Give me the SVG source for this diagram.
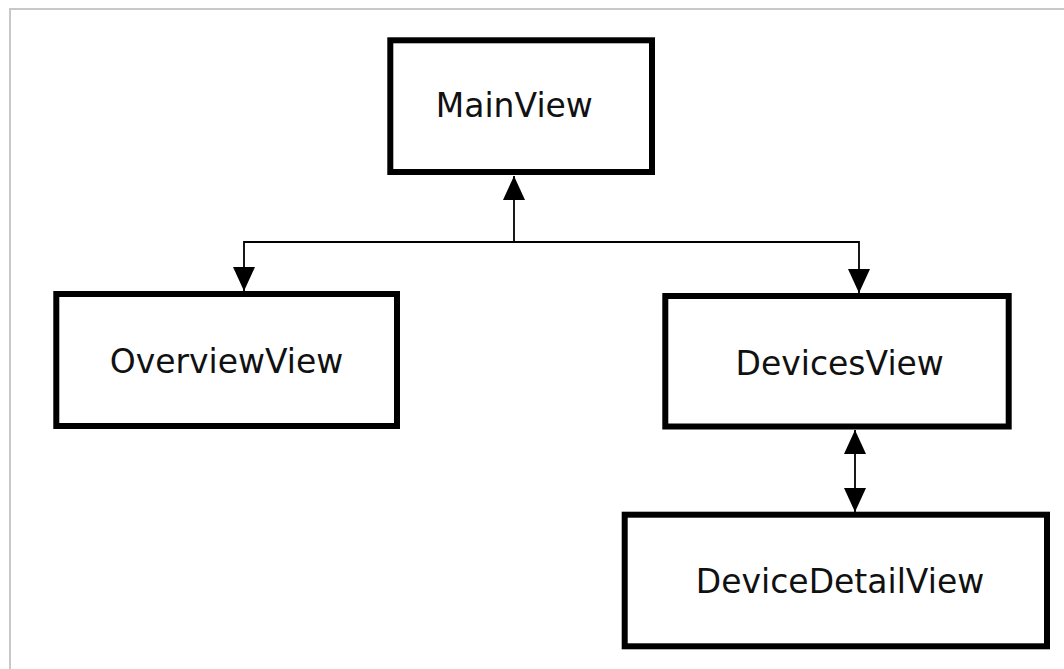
<svg xmlns="http://www.w3.org/2000/svg" width="1064" height="669" viewBox="0 0 1064 669">
  <style>
    .box { fill: #ffffff; stroke: #000000; stroke-width: 6; }
    .label { font-family: "DejaVu Sans", Verdana, sans-serif; font-size: 33px; fill: #111111; text-anchor: middle; }
    .wire { fill: none; stroke: #000000; stroke-width: 1.8; }
    .frame { fill: none; stroke: #c8c8c8; stroke-width: 2; }
  </style>
  <defs>
    <marker id="head" markerUnits="userSpaceOnUse" markerWidth="24" markerHeight="26" viewBox="0 0 24 26" refX="24" refY="12" orient="auto-start-reverse">
      <path d="M0,1 L24,12 L0,23 Z" fill="#000000"/>
    </marker>
  </defs>

  <rect x="0" y="0" width="1064" height="669" fill="#ffffff"/>
  <path class="frame" d="M10,669 V9 H1064"/>

  <g id="connectors">
    <!-- branch from MainView down to OverviewView and DevicesView -->
    <path class="wire" d="M514,242 V176" marker-end="url(#head)"/>
    <path class="wire" d="M514,242 H244 V291" marker-end="url(#head)"/>
    <path class="wire" d="M514,242 H859 V293" marker-end="url(#head)"/>
    <!-- two-way link between DevicesView and DeviceDetailView -->
    <path class="wire" d="M855,430 V512" marker-start="url(#head)" marker-end="url(#head)"/>
  </g>

  <g id="MainView">
    <rect class="box" x="390.3" y="40.3" width="261.7" height="131.7"/>
    <text class="label" x="514.3" y="116.7">MainView</text>
  </g>

  <g id="OverviewView">
    <rect class="box" x="56.3" y="294" width="340.7" height="132"/>
    <text class="label" x="226.5" y="373.3">OverviewView</text>
  </g>

  <g id="DevicesView">
    <rect class="box" x="665.3" y="296" width="343.4" height="130.5"/>
    <text class="label" x="839.7" y="375">DevicesView</text>
  </g>

  <g id="DeviceDetailView">
    <rect class="box" x="624.7" y="514.7" width="422.3" height="131.6"/>
    <text class="label" x="840" y="593.3">DeviceDetailView</text>
  </g>
</svg>
